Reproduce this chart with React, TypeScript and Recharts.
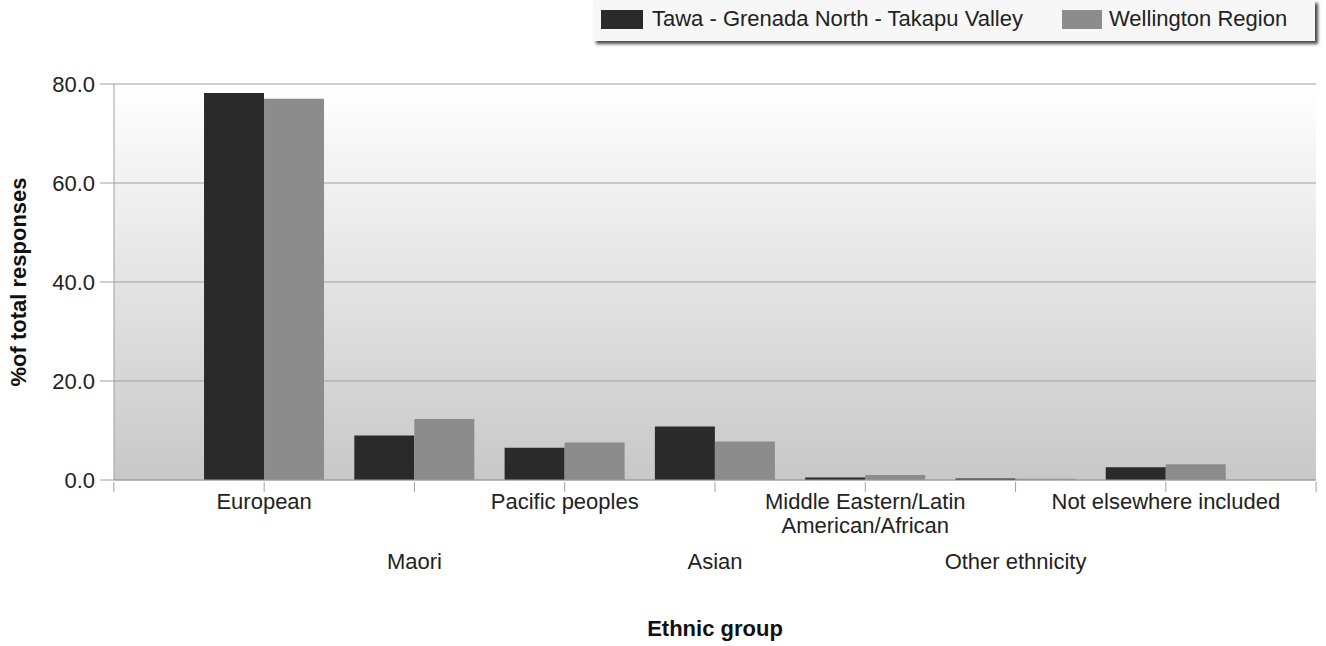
import React from 'react';
import { BarChart, Bar, XAxis, YAxis, CartesianGrid, Legend, Label } from 'recharts';

const categories = [
  'European',
  'Maori',
  'Pacific peoples',
  'Asian',
  'Middle Eastern/Latin American/African',
  'Other ethnicity',
  'Not elsewhere included',
];
const tawaValues = [78.2, 9.0, 6.5, 10.8, 0.5, 0.3, 2.6];
const wellingtonValues = [77.0, 12.3, 7.6, 7.8, 1.0, 0.25, 3.2];
const yTicks = [0, 20, 40, 60, 80];
const seriesNames = ['Tawa - Grenada North - Takapu Valley', 'Wellington Region'];
const seriesColors = ['#2a2a2a', '#8c8c8c'];

const tickLines: Record<string, string[]> = {
  'Middle Eastern/Latin American/African': ['Middle Eastern/Latin', 'American/African'],
};

const data = categories.map((c, i) => ({
  name: c,
  tawa: tawaValues[i],
  wellington: wellingtonValues[i],
}));

const FONT = 'Arial, "Liberation Sans", sans-serif';
const BAND = 150.29;

const XTick = (props: any) => {
  const { x, y, payload, index } = props;
  const lines = tickLines[payload.value] || [payload.value];
  const second = index % 2 === 1;
  const base = second ? 77 : 17;
  const ay = y - 10;
  return (
    <g>
      <line x1={x} x2={x} y1={ay} y2={ay + 10} stroke="#a0a0a0" />
      {index === 0 && <line x1={x - BAND} x2={x - BAND} y1={ay} y2={ay + 10} stroke="#a0a0a0" />}
      {index === categories.length - 1 && (
        <line x1={x + BAND} x2={x + BAND} y1={ay} y2={ay + 10} stroke="#a0a0a0" />
      )}
      {lines.map((l: string, k: number) => (
        <text
          key={k}
          x={x}
          y={y + base + k * 24}
          textAnchor="middle"
          fontSize={22}
          fontFamily={FONT}
          fill="#222"
        >
          {l}
        </text>
      ))}
    </g>
  );
};

const LegendBox = () => (
  <div
    style={{
      position: 'absolute',
      left: 593,
      top: 0,
      width: 722,
      height: 41,
      background: '#f7f7f7',
      boxShadow: '3px 3px 3px #4a4a4a',
      fontFamily: FONT,
      fontSize: 22,
      color: '#222',
    }}
  >
    <div style={{ position: 'absolute', left: 8, top: 10, width: 42, height: 19, background: seriesColors[0] }} />
    <div style={{ position: 'absolute', left: 59, top: 6, whiteSpace: 'nowrap' }}>{seriesNames[0]}</div>
    <div style={{ position: 'absolute', left: 469, top: 10, width: 40, height: 19, background: seriesColors[1] }} />
    <div style={{ position: 'absolute', left: 516, top: 6, whiteSpace: 'nowrap' }}>{seriesNames[1]}</div>
  </div>
);

export default function App() {
  return (
    <div style={{ position: 'absolute', left: 0, top: 0, width: 1326, height: 646, background: '#fff' }}>
      <svg width={0} height={0} style={{ position: 'absolute' }}>
        <defs>
          <linearGradient id="plotBg" x1="0" y1="0" x2="0" y2="1">
            <stop offset="0%" stopColor="#ffffff" />
            <stop offset="100%" stopColor="#c8c8c8" />
          </linearGradient>
        </defs>
      </svg>
      <BarChart
        width={1326}
        height={646}
        data={data}
        margin={{ top: 84, right: 10, bottom: 0, left: 0 }}
        barCategoryGap="10%"
        barGap={0}
      >
        <CartesianGrid vertical={false} stroke="#a0a0a0" fill="url(#plotBg)" fillOpacity={1} />
        <XAxis
          dataKey="name"
          height={166}
          padding={{ left: 75, right: 75 }}
          stroke="#a0a0a0"
          tickLine={false}
          tickSize={10}
          interval={0}
          tick={<XTick />}
        >
          <Label
            content={() => (
              <text
                x={715}
                y={636}
                textAnchor="middle"
                fontSize={22}
                fontWeight="bold"
                fontFamily={FONT}
                fill="#111"
              >
                Ethnic group
              </text>
            )}
          />
        </XAxis>
        <YAxis
          width={114}
          domain={[0, 80]}
          ticks={yTicks}
          tickFormatter={(v: number) => v.toFixed(1)}
          stroke="#a0a0a0"
          tickSize={14}
          tickMargin={5}
          tick={{ fontSize: 22, fontFamily: FONT, fill: '#222' }}
        >
          <Label
            content={(p: any) => {
              const vb = p.viewBox || { x: 0, y: 84, height: 396 };
              const cx = 18;
              const cy = vb.y + vb.height / 2;
              return (
                <text
                  x={cx}
                  y={cy}
                  transform={`rotate(-90 ${cx} ${cy})`}
                  textAnchor="middle"
                  dominantBaseline="central"
                  fontSize={22}
                  fontWeight="bold"
                  fontFamily={FONT}
                  fill="#111"
                >
                  %of total responses
                </text>
              );
            }}
          />
        </YAxis>
        <Legend content={() => <LegendBox />} wrapperStyle={{ position: 'absolute', left: 0, top: 0, width: 0, height: 0 }} />
        <Bar dataKey="tawa" name={seriesNames[0]} fill={seriesColors[0]} isAnimationActive={false} />
        <Bar dataKey="wellington" name={seriesNames[1]} fill={seriesColors[1]} isAnimationActive={false} />
      </BarChart>
    </div>
  );
}
